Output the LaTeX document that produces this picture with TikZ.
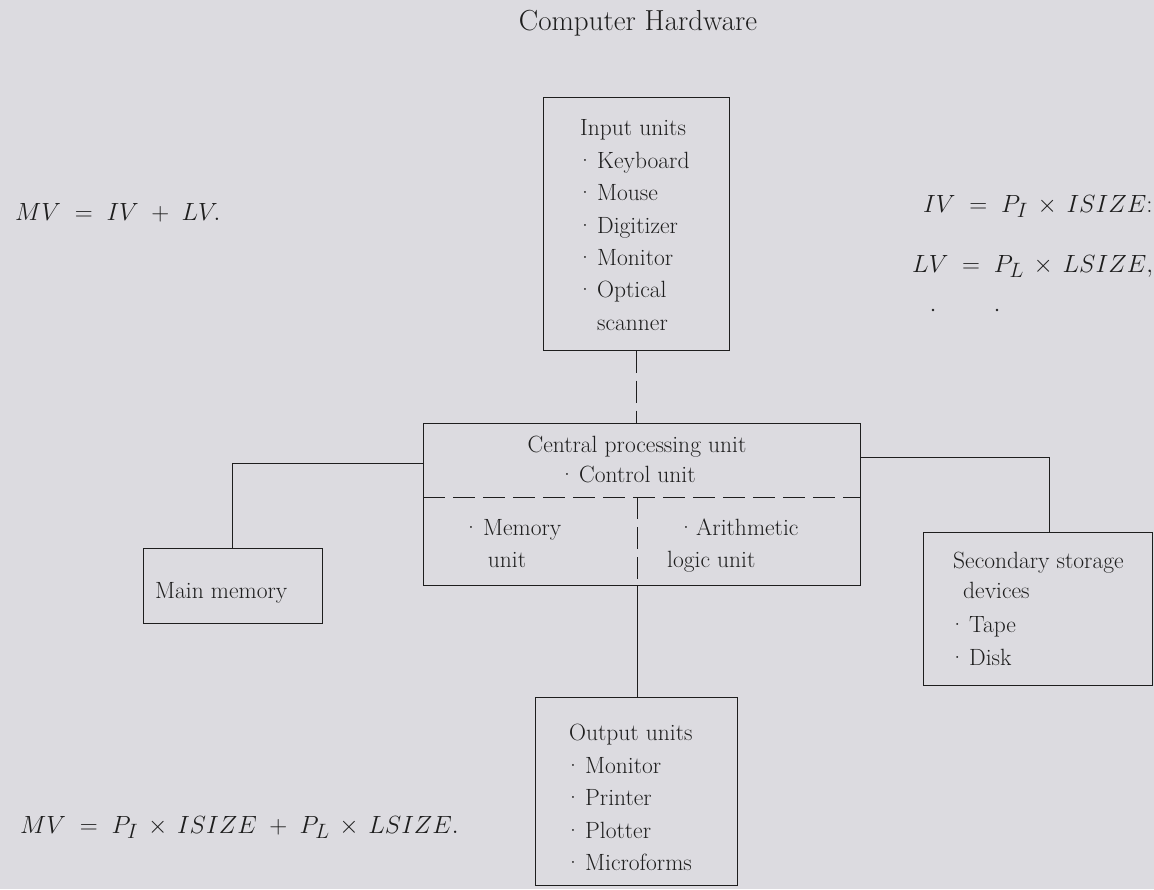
\documentclass[tikz,border=0pt]{standalone}
\usepackage{fontspec}
\usetikzlibrary{calc}
\definecolor{bg}{HTML}{DCDBE0}
\definecolor{ink}{HTML}{1E1E1E}
\newcommand\bl{\makebox[0pt][c]{·}\hspace{12pt}}
\tikzset{
  box/.style={draw=ink, line width=1pt, rectangle, inner sep=0pt},
  wire/.style={draw=ink, line width=1pt},
  dwire/.style={draw=ink, line width=1pt, dash pattern=on 22pt off 8pt},
  txt/.style={anchor=base west, inner sep=0pt, text=ink, font=\fontsize{23.5}{30}\selectfont},
  ctxt/.style={anchor=base, inner sep=0pt, text=ink, font=\fontsize{23.5}{30}\selectfont},
  ttl/.style={anchor=base, inner sep=0pt, text=ink, font=\fontsize{29}{32}\selectfont},
  frm/.style={anchor=base west, inner sep=0pt, text=ink, font=\fontsize{28}{32}\selectfont},
}
\begin{document}
\begin{tikzpicture}[x=1pt,y=-1pt]
\useasboundingbox (0,0) rectangle (1154,889);
\fill[bg] (0,0) rectangle (1154,889);

% title
\node[ttl] (title) at (638,30) {Computer Hardware};

% formulas
\node[frm] (f1) at (15,220) {$MV \;=\; IV \;+\; LV.$};
\node[frm] (f2) at (923,212) {$IV \;=\; P_I \,\times\, ISIZE\mathpunct{:}$};
\node[frm] (f3) at (912,272) {$LV \;=\; P_L \,\times\, LSIZE,$};
\node[frm] (f4) at (20,833) {$MV \;=\; P_I \,\times\, ISIZE \;+\; P_L \,\times\, LSIZE.$};
\fill[ink] (933,310) circle (1.3pt);
\fill[ink] (997,310) circle (1.3pt);

% boxes
\node[box, minimum width=186pt, minimum height=253pt] (input) at (636,223.5) {};
\node[box, minimum width=437pt, minimum height=162pt] (cpu) at (641.5,504) {};
\node[box, minimum width=179pt, minimum height=75pt] (mm) at (232.5,585.5) {};
\node[box, minimum width=229pt, minimum height=153pt] (ss) at (1037.5,608.5) {};
\node[box, minimum width=202pt, minimum height=188pt] (out) at (636,791) {};

% input text
\node[txt] (i0) at (580,135) {Input units};
\node[txt] (i1) at (585,168) {\bl Keyboard};
\node[txt] (i2) at (585,200) {\bl Mouse};
\node[txt] (i3) at (585,233) {\bl Digitizer};
\node[txt] (i4) at (585,265) {\bl Monitor};
\node[txt] (i5) at (585,297) {\bl Optical};
\node[txt] (i6) at (597,330) {scanner};

% cpu text
\node[ctxt] (c0) at (637,452) {Central processing unit};
\node[txt] (c1) at (567,482) {\bl Control unit};
\node[txt] (c2) at (471,535) {\bl Memory};
\node[ctxt] (c3) at (507,567) {unit};
\node[txt] (c4) at (686,535) {\makebox[0pt][c]{·}\hspace{10pt}Arithmetic};
\node[txt] (c5) at (667,567) {logic unit};

% main memory
\node[txt] (m0) at (155,598) {Main memory};

% secondary storage
\node[txt] (s0) at (953,568) {Secondary storage};
\node[txt] (s1) at (963,598) {devices};
\node[txt] (s2) at (957,632) {\bl Tape};
\node[txt] (s3) at (957,665) {\bl Disk};

% output
\node[txt] (o0) at (569,740) {Output units};
\node[txt] (o1) at (573,773) {\bl Monitor};
\node[txt] (o2) at (573,805) {\bl Printer};
\node[txt] (o3) at (573,838) {\bl Plotter};
\node[txt] (o4) at (573,870) {\bl Microforms};

% internal cpu divisions
\coordinate (hl) at (423,497);
\coordinate (hr) at (860,497);
\coordinate (dv) at (637,497);
\draw[dwire] (hl) -- (hr);
\draw[dwire] (dv) -- (dv |- cpu.south);

% connectors
\draw[dwire] (input.south) -- (input.south |- cpu.north);
\coordinate (lc) at (423,463);
\draw[wire] (lc) -| (mm.north);
\coordinate (rc) at (860,457);
\coordinate (rv) at (1049,532);
\draw[wire] (rc) -| (rv);
\draw[wire] (dv |- cpu.south) -- (dv |- out.north);
\end{tikzpicture}
\end{document}
